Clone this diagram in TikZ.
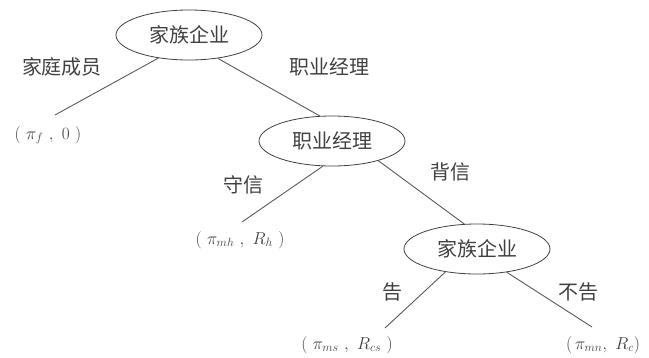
\documentclass[tikz,border=0pt]{standalone}
\usepackage{fontspec}
\newfontfamily\cjk{Noto Sans CJK SC}
\usetikzlibrary{shapes.geometric}

\begin{document}
\begin{tikzpicture}[x=1pt, y=-1pt,
		player/.style={draw=black!75, line width=0.8pt, ellipse, minimum width=146pt, minimum height=50pt, inner sep=0pt, font=\cjk\fontsize{20}{24}\selectfont, text=black!75},
		move/.style={font=\cjk\fontsize{20}{24}\selectfont, text=black!75},
		payoff/.style={font=\fontsize{18}{20}\selectfont, text=black!75},
		branch/.style={draw=black!65, line width=0.9pt}]
		%%%%% START %%%%%
		
		\useasboundingbox (0, 0) rectangle (649, 357);
		
		\node[player] (fe1) at (189, 35) {家族企业};
		\node[player] (pm) at (332, 141) {职业经理};
		\node[player] (fe2) at (477, 249) {家族企业};
		
		\coordinate (endf) at (55, 115);
		\coordinate (endh) at (242, 222);
		\coordinate (ends) at (385, 328);
		\coordinate (endn) at (592, 327);
		
		\draw[branch] (fe1.217) -- (endf);
		\draw[branch] (fe1.-39) -- (pm.116);
		\draw[branch] (pm.250) -- (endh);
		\draw[branch] (pm.-23) -- (fe2.117);
		\draw[branch] (fe2.216) -- (ends);
		\draw[branch] (fe2.-38) -- (endn);
		
		\node[move] (family) at (62, 67) {家庭成员};
		\node[move] (manager) at (329, 67) {职业经理};
		\node[move] (keep) at (243, 185) {守信};
		\node[move] (betray) at (450, 172) {背信};
		\node[move] (tell) at (392, 292) {告};
		\node[move] (notell) at (578, 292) {不告};
		
		\node[payoff] (payf) at (48, 135) {$(\ \pi_{f}\ ,\ 0\ )$};
		\node[payoff] (payh) at (240, 240) {$(\ \pi_{mh}\ ,\ R_{h}\ )$};
		\node[payoff] (pays) at (347, 345) {$(\ \pi_{ms}\ ,\ R_{cs}\ )$};
		\node[payoff] (payn) at (603, 345) {$(\,\pi_{mn},\ R_{c})$};
		
		%%%%% END %%%%%
	\end{tikzpicture}
\end{document}
